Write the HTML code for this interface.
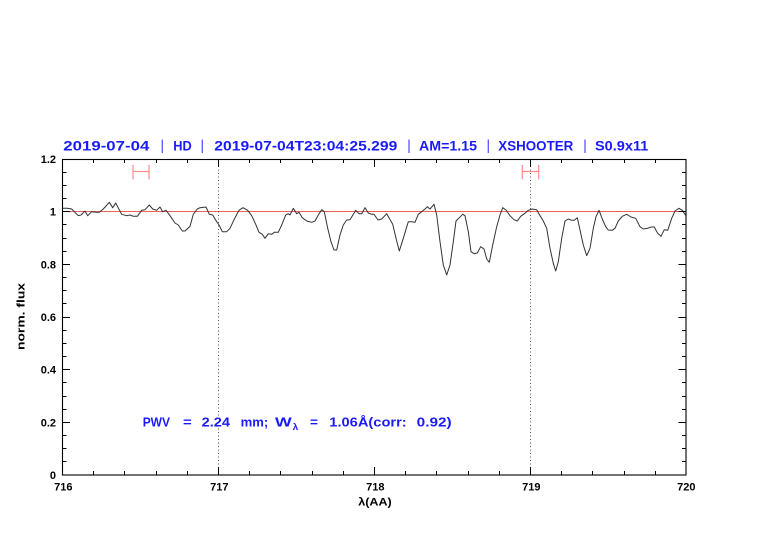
<!DOCTYPE html>
<html><head><meta charset="utf-8"><style>
html,body{margin:0;padding:0;background:#fff;}
svg{display:block;}
text{font-family:"Liberation Sans",Arial,sans-serif;}
</style></head><body>
<svg width="782" height="542" viewBox="0 0 782 542" xmlns="http://www.w3.org/2000/svg">
<rect width="782" height="542" fill="#fff"/>
<!-- title -->
<g fill="#1a1aff" font-size="13.5" font-weight="bold">
<text x="63.3" y="150.5" textLength="86" lengthAdjust="spacingAndGlyphs">2019-07-04</text>
<text x="173.3" y="150.5" textLength="18.5" lengthAdjust="spacingAndGlyphs">HD</text>
<text x="214.3" y="150.5" textLength="183" lengthAdjust="spacingAndGlyphs">2019-07-04T23:04:25.299</text>
<text x="419" y="150.5" textLength="58" lengthAdjust="spacingAndGlyphs">AM=1.15</text>
<text x="498.3" y="150.5" textLength="75" lengthAdjust="spacingAndGlyphs">XSHOOTER</text>
<text x="595" y="150.5" textLength="53.3" lengthAdjust="spacingAndGlyphs">S0.9x11</text>
</g>
<g stroke="#5a5aff" stroke-width="1.3">
<line x1="162.3" y1="139.5" x2="162.3" y2="153"/>
<line x1="202.3" y1="139.5" x2="202.3" y2="153"/>
<line x1="409" y1="139.5" x2="409" y2="153"/>
<line x1="488.3" y1="139.5" x2="488.3" y2="153"/>
<line x1="585" y1="139.5" x2="585" y2="153"/>
</g>
<!-- reference line at 1 -->
<line x1="62" y1="211.5" x2="686" y2="211.5" stroke="#f06060" stroke-width="1"/>
<!-- dotted verticals -->
<g stroke="#555" stroke-width="1" stroke-dasharray="1 2.5">
<line x1="218.5" y1="159" x2="218.5" y2="475"/>
<line x1="530.5" y1="159" x2="530.5" y2="475"/>
</g>
<!-- red error bars -->
<g stroke="#ff8a8a" stroke-width="1.2" fill="none">
<line x1="133" y1="171.5" x2="149" y2="171.5"/>
<line x1="133" y1="165" x2="133" y2="179.3"/>
<line x1="149" y1="165" x2="149" y2="179.3"/>
<line x1="522.3" y1="171.5" x2="538.7" y2="171.5"/>
<line x1="522.3" y1="165" x2="522.3" y2="179.3"/>
<line x1="538.7" y1="165" x2="538.7" y2="179.3"/>
</g>
<!-- spectrum -->
<polyline fill="none" stroke="#333" stroke-width="1" stroke-linejoin="round" points="62,208.5 63.3,208.3 67.3,208.3 71.7,209 78.3,215.7 81,215 85,211 87.7,215.7 91.7,211.7 96,212.3 99.3,212.3 103.3,209 109.3,202.3 112.7,207.7 115.7,203 121.7,214.3 126.7,215.7 130,215 133.3,216.3 137.3,216.3 141.7,210.3 145,209.7 149.3,205 152.7,209 156.7,210.3 160,207 162.7,211.7 166,210.3 170,215.7 175,223 178.3,225 182.3,231 185,231 190,226.3 193.3,214.3 197.3,209 200,207.7 206,207 209.3,214.3 212.7,215 216.7,221.7 219,225 222.3,231.7 226.7,231.7 230,228.3 235,217.7 239,210.3 243,207.7 247.7,210.3 251.7,215.7 255.7,224.3 259,232.3 262.3,234.3 265,238.3 268.3,233.7 271.7,234.3 274.3,232.3 278.3,232.3 281.7,225 285.7,215 288.3,213.7 290,215 293.3,208.3 296.7,213.7 299,212.3 302.3,217.7 306.7,221 311.7,222.3 315,221 318.3,215 321.7,209.7 324.3,211.7 327.7,228.3 331,241.7 334,250 336.7,250 340,235 343.3,225 346.7,220 350,219.7 353.3,214.3 355.7,210.3 359,213.7 361.7,213.7 365,207.7 368.3,213 371.7,214.3 374,214.3 378,220 381.7,219 386.7,213.7 389.3,218.3 392.7,224.3 396,238.3 399.3,251 403.3,238.3 408.3,221.7 411.7,221.7 415,222.3 418.3,214.3 421.7,211.7 425,209 427.3,206.7 430,209 434,204.3 436.7,215 440,241.7 443.3,265 446.7,275 450,265 453.3,241.7 456,221 459.3,217.7 462.7,214.3 465,215.7 468.3,231.7 471,251.7 474,253.7 477.3,253 480.7,246.7 484,249 486.7,259 489.3,262.3 492.7,245 496.7,226.7 500,215 502.7,207.7 506,210 510,215.7 514,219.7 517.3,221 520.7,216.3 525,213.3 528.3,210.3 532.3,209 536.7,209.7 540,215.7 543.3,221 546.7,228.3 550,248.3 553.3,263.3 555.7,271 558.3,261.7 561.7,238.3 565,221 568.3,219 571.7,220.3 574.3,220.3 577.3,217.7 580,230 583.3,245 586.7,255.7 590,248.3 593.3,228.3 596,216.7 599,210.3 602.3,219 605.7,226.7 608.3,230 612.3,230.3 615,228.3 618.3,221 622.3,216.3 626.7,214.3 631,217 635.7,218.3 640,226.7 643.3,229 647.7,228.3 651,227 654.3,227 657.7,233.3 661,236.3 664.3,229.7 667.7,230.3 671.7,218.3 675,211 679,208.3 682.3,210.3 685,214.3 686,215.7"/>
<!-- frame -->
<rect x="62.5" y="159.5" width="623.5" height="315.5" fill="none" stroke="#000" stroke-width="1.1"/>
<!-- ticks -->
<g stroke="#000" stroke-width="1">
<line x1="218.5" y1="475" x2="218.5" y2="467"/><line x1="374.5" y1="475" x2="374.5" y2="467"/><line x1="530.5" y1="475" x2="530.5" y2="467"/>
<line x1="218.5" y1="159" x2="218.5" y2="167"/><line x1="374.5" y1="159" x2="374.5" y2="167"/><line x1="530.5" y1="159" x2="530.5" y2="167"/>
<line x1="93.5" y1="475" x2="93.5" y2="471"/><line x1="124.5" y1="475" x2="124.5" y2="471"/><line x1="156.5" y1="475" x2="156.5" y2="471"/><line x1="187.5" y1="475" x2="187.5" y2="471"/>
<line x1="249.5" y1="475" x2="249.5" y2="471"/><line x1="280.5" y1="475" x2="280.5" y2="471"/><line x1="312.5" y1="475" x2="312.5" y2="471"/><line x1="343.5" y1="475" x2="343.5" y2="471"/>
<line x1="405.5" y1="475" x2="405.5" y2="471"/><line x1="436.5" y1="475" x2="436.5" y2="471"/><line x1="468.5" y1="475" x2="468.5" y2="471"/><line x1="499.5" y1="475" x2="499.5" y2="471"/>
<line x1="561.5" y1="475" x2="561.5" y2="471"/><line x1="592.5" y1="475" x2="592.5" y2="471"/><line x1="624.5" y1="475" x2="624.5" y2="471"/><line x1="655.5" y1="475" x2="655.5" y2="471"/>
<line x1="93.5" y1="159" x2="93.5" y2="163"/><line x1="124.5" y1="159" x2="124.5" y2="163"/><line x1="156.5" y1="159" x2="156.5" y2="163"/><line x1="187.5" y1="159" x2="187.5" y2="163"/>
<line x1="249.5" y1="159" x2="249.5" y2="163"/><line x1="280.5" y1="159" x2="280.5" y2="163"/><line x1="312.5" y1="159" x2="312.5" y2="163"/><line x1="343.5" y1="159" x2="343.5" y2="163"/>
<line x1="405.5" y1="159" x2="405.5" y2="163"/><line x1="436.5" y1="159" x2="436.5" y2="163"/><line x1="468.5" y1="159" x2="468.5" y2="163"/><line x1="499.5" y1="159" x2="499.5" y2="163"/>
<line x1="561.5" y1="159" x2="561.5" y2="163"/><line x1="592.5" y1="159" x2="592.5" y2="163"/><line x1="624.5" y1="159" x2="624.5" y2="163"/><line x1="655.5" y1="159" x2="655.5" y2="163"/>
<line x1="62.5" y1="422.5" x2="70" y2="422.5"/><line x1="62.5" y1="369.5" x2="70" y2="369.5"/><line x1="62.5" y1="317.5" x2="70" y2="317.5"/><line x1="62.5" y1="264.5" x2="70" y2="264.5"/><line x1="62.5" y1="211.5" x2="70" y2="211.5"/>
<line x1="686" y1="422.5" x2="678.5" y2="422.5"/><line x1="686" y1="369.5" x2="678.5" y2="369.5"/><line x1="686" y1="317.5" x2="678.5" y2="317.5"/><line x1="686" y1="264.5" x2="678.5" y2="264.5"/><line x1="686" y1="211.5" x2="678.5" y2="211.5"/>
<line x1="62.5" y1="461.5" x2="66.5" y2="461.5"/><line x1="62.5" y1="448.5" x2="66.5" y2="448.5"/><line x1="62.5" y1="435.5" x2="66.5" y2="435.5"/>
<line x1="62.5" y1="409.5" x2="66.5" y2="409.5"/><line x1="62.5" y1="396.5" x2="66.5" y2="396.5"/><line x1="62.5" y1="382.5" x2="66.5" y2="382.5"/>
<line x1="62.5" y1="356.5" x2="66.5" y2="356.5"/><line x1="62.5" y1="343.5" x2="66.5" y2="343.5"/><line x1="62.5" y1="330.5" x2="66.5" y2="330.5"/>
<line x1="62.5" y1="303.5" x2="66.5" y2="303.5"/><line x1="62.5" y1="290.5" x2="66.5" y2="290.5"/><line x1="62.5" y1="277.5" x2="66.5" y2="277.5"/>
<line x1="62.5" y1="251.5" x2="66.5" y2="251.5"/><line x1="62.5" y1="238.5" x2="66.5" y2="238.5"/><line x1="62.5" y1="224.5" x2="66.5" y2="224.5"/>
<line x1="62.5" y1="198.5" x2="66.5" y2="198.5"/><line x1="62.5" y1="185.5" x2="66.5" y2="185.5"/><line x1="62.5" y1="172.5" x2="66.5" y2="172.5"/>
<line x1="686" y1="461.5" x2="682" y2="461.5"/><line x1="686" y1="448.5" x2="682" y2="448.5"/><line x1="686" y1="435.5" x2="682" y2="435.5"/>
<line x1="686" y1="409.5" x2="682" y2="409.5"/><line x1="686" y1="396.5" x2="682" y2="396.5"/><line x1="686" y1="382.5" x2="682" y2="382.5"/>
<line x1="686" y1="356.5" x2="682" y2="356.5"/><line x1="686" y1="343.5" x2="682" y2="343.5"/><line x1="686" y1="330.5" x2="682" y2="330.5"/>
<line x1="686" y1="303.5" x2="682" y2="303.5"/><line x1="686" y1="290.5" x2="682" y2="290.5"/><line x1="686" y1="277.5" x2="682" y2="277.5"/>
<line x1="686" y1="251.5" x2="682" y2="251.5"/><line x1="686" y1="238.5" x2="682" y2="238.5"/><line x1="686" y1="224.5" x2="682" y2="224.5"/>
<line x1="686" y1="198.5" x2="682" y2="198.5"/><line x1="686" y1="185.5" x2="682" y2="185.5"/><line x1="686" y1="172.5" x2="682" y2="172.5"/>
</g>
<!-- y tick labels -->
<g font-size="11" font-weight="bold" fill="#000" text-anchor="end">
<text x="56" y="479">0</text>
<text x="56" y="426.3">0.2</text>
<text x="56" y="373.7">0.4</text>
<text x="56" y="321">0.6</text>
<text x="56" y="268.3">0.8</text>
<text x="56" y="215.7">1</text>
<text x="56" y="163">1.2</text>
</g>
<!-- x tick labels -->
<g font-size="11" font-weight="bold" fill="#000" text-anchor="middle">
<text x="63.3" y="490.5">716</text>
<text x="219.3" y="490.5">717</text>
<text x="375.3" y="490.5">718</text>
<text x="531.3" y="490.5">719</text>
<text x="686.3" y="490.5">720</text>
</g>
<text x="358.3" y="505.5" font-size="11" font-weight="bold" textLength="33.4" lengthAdjust="spacingAndGlyphs">λ(AA)</text>
<text transform="translate(24.5,350) rotate(-90)" x="0" y="0" font-size="11" font-weight="bold" textLength="67" lengthAdjust="spacingAndGlyphs">norm. flux</text>
<!-- PWV annotation -->
<g fill="#1a1aff" font-size="12.5" font-weight="bold">
<text x="142.7" y="426.7" textLength="27.3" lengthAdjust="spacingAndGlyphs">PWV</text>
<text x="183" y="426.7" textLength="8.7" lengthAdjust="spacingAndGlyphs">=</text>
<text x="201.7" y="426.7" textLength="28.3" lengthAdjust="spacingAndGlyphs">2.24</text>
<text x="240.7" y="426.7" textLength="27.6" lengthAdjust="spacingAndGlyphs">mm;</text>
<text x="275" y="426.7" textLength="16.7" lengthAdjust="spacingAndGlyphs">W</text>
<text x="292.7" y="430" font-size="9" textLength="5.6" lengthAdjust="spacingAndGlyphs">λ</text>
<text x="310" y="426.7" textLength="8" lengthAdjust="spacingAndGlyphs">=</text>
<text x="329.3" y="426.7" textLength="77.4" lengthAdjust="spacingAndGlyphs">1.06Å(corr:</text>
<text x="416.7" y="426.7" textLength="35" lengthAdjust="spacingAndGlyphs">0.92)</text>
</g>
</svg>
</body></html>
